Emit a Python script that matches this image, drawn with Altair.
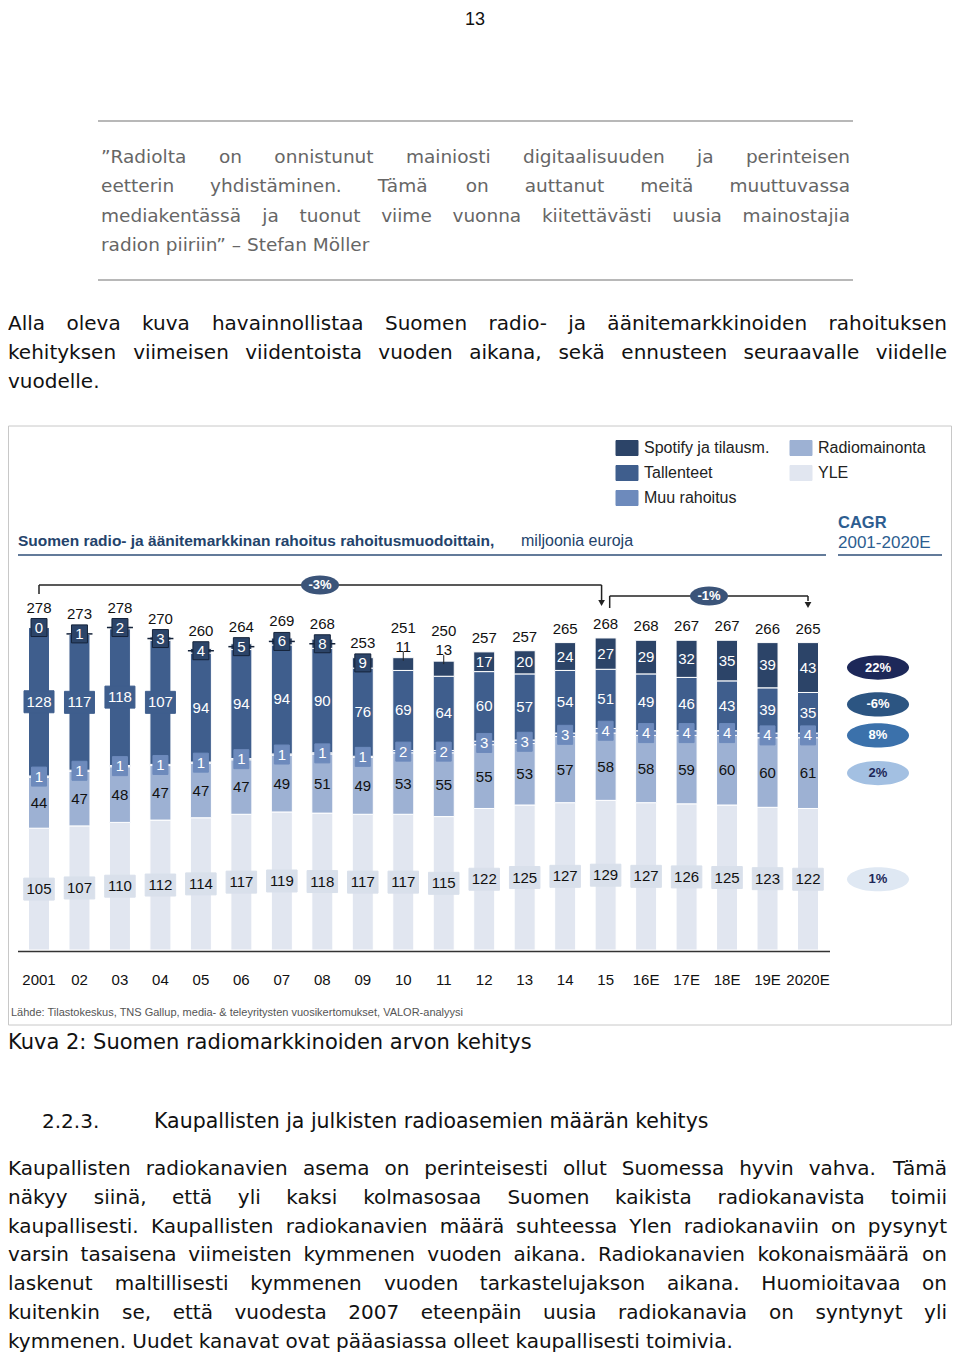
import altair as alt
import pandas as pd

# ---------------- data ----------------
years = ["2001", "02", "03", "04", "05", "06", "07", "08", "09", "10",
         "11", "12", "13", "14", "15", "16E", "17E", "18E", "19E", "2020E"]
yle = [105, 107, 110, 112, 114, 117, 119, 118, 117, 117, 115, 122, 125, 127, 129, 127, 126, 125, 123, 122]
radiomainonta = [44, 47, 48, 47, 47, 47, 49, 51, 49, 53, 55, 55, 53, 57, 58, 58, 59, 60, 60, 61]
muu_rahoitus = [1, 1, 1, 1, 1, 1, 1, 1, 1, 2, 2, 3, 3, 3, 4, 4, 4, 4, 4, 4]
tallenteet = [128, 117, 118, 107, 94, 94, 94, 90, 76, 69, 64, 60, 57, 54, 51, 49, 46, 43, 39, 35]
spotify = [0, 1, 2, 3, 4, 5, 6, 8, 9, 11, 13, 17, 20, 24, 27, 29, 32, 35, 39, 43]
totals = [278, 273, 278, 270, 260, 264, 269, 268, 253, 251, 250, 257, 257, 265, 268, 268, 267, 267, 266, 265]
series = ["YLE", "Radiomainonta", "Muu rahoitus", "Tallenteet", "Spotify ja tilausm."]
cagr = ["1%", "2%", "8%", "-6%", "22%"]
period_labels = ["-3%", "-1%"]
period_from = ["2001", "15"]
period_to = ["15", "2020E"]

page_number = "13"
quote_lines = [
    "”Radiolta on onnistunut mainiosti digitaalisuuden ja perinteisen",
    "eetterin yhdistäminen. Tämä on auttanut meitä muuttuvassa",
    "mediakentässä ja tuonut viime vuonna kiitettävästi uusia mainostajia",
    "radion piiriin” – Stefan Möller",
]
intro_lines = [
    "Alla oleva kuva havainnollistaa Suomen radio- ja äänitemarkkinoiden rahoituksen",
    "kehityksen viimeisen viidentoista vuoden aikana, sekä ennusteen seuraavalle viidelle",
    "vuodelle.",
]
chart_title_bold = "Suomen radio- ja äänitemarkkinan rahoitus rahoitusmuodoittain,"
chart_title_unit = "miljoonia euroja"
cagr_title = "CAGR"
cagr_period = "2001-2020E"
source_text = "Lähde: Tilastokeskus, TNS Gallup, media- & teleyritysten vuosikertomukset, VALOR-analyysi"
caption = "Kuva 2: Suomen radiomarkkinoiden arvon kehitys"
section_no = "2.2.3."
section_title = "Kaupallisten ja julkisten radioasemien määrän kehitys"
body_lines = [
    "Kaupallisten radiokanavien asema on perinteisesti ollut Suomessa hyvin vahva. Tämä",
    "näkyy siinä, että yli kaksi kolmasosaa Suomen kaikista radiokanavista toimii",
    "kaupallisesti. Kaupallisten radiokanavien määrä suhteessa Ylen radiokanaviin on pysynyt",
    "varsin tasaisena viimeisten kymmenen vuoden aikana. Radiokanavien kokonaismäärä on",
    "laskenut maltillisesti kymmenen vuoden tarkastelujakson aikana. Huomioitavaa on",
    "kuitenkin se, että vuodesta 2007 eteenpäin uusia radiokanavia on syntynyt yli",
    "kymmenen. Uudet kanavat ovat pääasiassa olleet kaupallisesti toimivia.",
]

# ---------------- layout / styles ----------------
W, H = 944, 1344
K = 1.16        # px per million euro
XS = 40.474     # px per bar step
X0_PAGE, Y0_PAGE = 39, 950
xdom = [-(X0_PAGE - 8) / XS, (W - (X0_PAGE - 8)) / XS]
ydom = [-(H - (Y0_PAGE - 8)) / K, (Y0_PAGE - 8) / K]


def X(px):
    return xdom[0] + (px - 8) / XS


def Y(py):
    return ydom[1] - (py - 8) / K


def dxu(px):
    return px / XS


def dyu(px):
    return px / K


seg_colors = {"YLE": "#e1e6f0", "Radiomainonta": "#9db1d3", "Muu rahoitus": "#6d8abc",
              "Tallenteet": "#3f5e8d", "Spotify ja tilausm.": "#2c4468"}
cagr_colors = ["#dfe8f3", "#a3c0e2", "#3b71ab", "#2c5582", "#1d2859"]
cagr_text_colors = ["#1d2859", "#1d2859", "white", "white", "white"]
DARK = "#111111"
TITLE_BLUE = "#24436b"
CAGR_BLUE = "#2d5d90"

XSC = alt.Scale(domain=xdom, nice=False, zero=False, padding=0)
YSC = alt.Scale(domain=ydom, nice=False, zero=False, padding=0)


def ex(f="x"):
    return alt.X(f"{f}:Q", scale=XSC, axis=None)


def ey(f="y"):
    return alt.Y(f"{f}:Q", scale=YSC, axis=None)


# DejaVu Sans advance widths (em)
CW = {' ': .318, '”': .52, '"': .46, '–': .5, '-': .361, '.': .318, ',': .318, ':': .337,
      'A': .684, 'B': .686, 'C': .698, 'D': .770, 'E': .632, 'F': .575, 'G': .775, 'H': .752,
      'I': .295, 'J': .295, 'K': .656, 'L': .557, 'M': .863, 'N': .748, 'O': .787, 'P': .603,
      'R': .695, 'S': .635, 'T': .611, 'U': .732, 'V': .684, 'W': .989, 'Y': .611,
      'a': .613, 'b': .635, 'c': .550, 'd': .635, 'e': .615, 'f': .352, 'g': .635, 'h': .634,
      'i': .278, 'j': .278, 'k': .579, 'l': .278, 'm': .974, 'n': .634, 'o': .612, 'p': .635,
      'q': .635, 'r': .411, 's': .521, 't': .392, 'u': .634, 'v': .592, 'w': .818, 'x': .592,
      'y': .592, 'z': .525, 'ä': .613, 'ö': .612, 'Ö': .787, 'Ä': .684}


def tw(s, fs):
    return sum(CW.get(ch, 0.636) for ch in s) * fs


body_left, body_right = [], []
lib_left, lib_center, bold_left, bold_center = [], [], [], []


def trow(text, px, py, size, color):
    return dict(t=text, x=X(px), y=Y(py), s=size, c=color)


def para(lines, x0, x1, y0, dy, fs, color):
    for k, line in enumerate(lines):
        y = y0 + k * dy
        words = line.split(" ")
        if k == len(lines) - 1 or len(words) == 1:
            body_left.append(trow(line, x0, y, fs, color))
            continue
        ws = [tw(w, fs) for w in words]
        gap = max((x1 - x0 - sum(ws)) / (len(words) - 1), fs * 0.3)
        xx = x0
        for j, w in enumerate(words):
            if j == len(words) - 1:
                body_right.append(trow(w, x1, y, fs, color))
            else:
                body_left.append(trow(w, xx, y, fs, color))
            xx += ws[j] + gap


para(quote_lines, 101, 850, 157, 29.3, 18.5, "#666666")
para(intro_lines, 8, 947, 324, 29, 20, DARK)
para(body_lines, 8, 947, 1169, 28.8, 20, DARK)
body_left.append(trow(caption, 8, 1043, 21, DARK))
body_left.append(trow(section_no, 42, 1122, 20, DARK))
body_left.append(trow(section_title, 154, 1122, 20.5, DARK))

lib_center.append(trow(page_number, 475, 20, 18, DARK))

# ---------------- bars ----------------
vals = [yle, radiomainonta, muu_rahoitus, tallenteet, spotify]
bar_rows, box_rows, rule_rows = [], [], []
centers = {}
tops = []
for i in range(len(years)):
    base = 0
    for s, name in enumerate(series):
        v = vals[s][i]
        bar_rows.append(dict(x=i, y=base, y2=base + v, c=seg_colors[name]))
        centers[(i, s)] = base + v / 2
        base += v
    tops.append(base)


def add_box(i, cy, wpx, hpx, fill, stroke):
    box_rows.append(dict(x=i - dxu(wpx / 2), x2=i + dxu(wpx / 2), y=cy - dyu(hpx / 2),
                         y2=cy + dyu(hpx / 2), c=fill, sc=stroke))


for i in range(len(years)):
    top = tops[i]
    # YLE
    c = centers[(i, 0)]
    add_box(i, c, 8 + 7.5 * len(str(yle[i])), 22, "#d9e0eb", "#d9e0eb")
    lib_center.append(dict(t=str(yle[i]), x=i, y=c, s=15, c=DARK))
    # Radiomainonta
    c = centers[(i, 1)]
    lib_center.append(dict(t=str(radiomainonta[i]), x=i, y=c, s=15, c=DARK))
    # Muu rahoitus
    c = centers[(i, 2)]
    add_box(i, c, 15, 19, seg_colors["Muu rahoitus"], seg_colors["Muu rahoitus"])
    lib_center.append(dict(t=str(muu_rahoitus[i]), x=i, y=c, s=15, c="white"))
    # Tallenteet
    c = centers[(i, 3)]
    if i < 4:
        add_box(i, c, 30, 22, seg_colors["Tallenteet"], seg_colors["Tallenteet"])
    lib_center.append(dict(t=str(tallenteet[i]), x=i, y=c, s=15, c="white"))
    # Spotify
    v = spotify[i]
    c = centers[(i, 4)]
    upper = top + dyu(3)
    if v < 10:
        if 0 < v < 9:
            rule_rows.append(dict(x=i - dxu(13), x2=i + dxu(13), y=c, y2=c, c="#15233a", w=1.5))
        add_box(i, c, 8 + 8 * len(str(v)), 18, seg_colors["Spotify ja tilausm."], "#15233a")
        lib_center.append(dict(t=str(v), x=i, y=c, s=15, c="white"))
        upper = max(upper, c + dyu(9))
    elif v < 15:
        ly = top + dyu(11)
        lib_center.append(dict(t=str(v), x=i, y=ly, s=15, c=DARK))
        rule_rows.append(dict(x=i, x2=i, y=top + dyu(6), y2=top - dyu(3), c="#222222", w=1))
        upper = max(upper, ly + dyu(8))
    else:
        lib_center.append(dict(t=str(v), x=i, y=c, s=15, c="white"))
    # total
    lib_center.append(dict(t=str(totals[i]), x=i, y=upper + dyu(11), s=15, c=DARK))
    # year
    lib_center.append(dict(t=years[i], x=i, y=Y(980), s=15, c=DARK))

# ---------------- CAGR ovals ----------------
last = len(years) - 1
oval_rows = []
ys_cagr = []
prev = None
for s in range(len(series)):
    cy = centers[(last, s)]
    if prev is not None and cy - prev < dyu(31):
        cy = prev + dyu(31)
    ys_cagr.append(cy)
    prev = cy
for s in range(len(series)):
    cy = ys_cagr[s]
    oval_rows.append(dict(x=X(878), y=cy, c=cagr_colors[s], s=62 * 62))
    bold_center.append(dict(t=cagr[s], x=X(878), y=cy, s=13, c=cagr_text_colors[s]))

# ---------------- period brackets ----------------
i0, i1 = years.index(period_from[0]), years.index(period_to[0])
j0, j1 = years.index(period_from[1]), years.index(period_to[1])
ya, yb = Y(585), Y(596)
rule_rows += [
    dict(x=i0, x2=i1 - 0.1, y=ya, y2=ya, c="#222222", w=1.5),
    dict(x=i0, x2=i0, y=ya, y2=Y(594), c="#222222", w=1.5),
    dict(x=i1 - 0.1, x2=i1 - 0.1, y=ya, y2=Y(600), c="#222222", w=1.5),
    dict(x=j0 + 0.1, x2=j1, y=yb, y2=yb, c="#222222", w=1.5),
    dict(x=j0 + 0.1, x2=j0 + 0.1, y=yb, y2=Y(608), c="#222222", w=1.5),
    dict(x=j1, x2=j1, y=yb, y2=Y(601), c="#222222", w=1.5),
]
arrow_rows = [dict(x=i1 - 0.1, y=Y(603)), dict(x=j1, y=Y(605))]
small_oval_rows = [dict(x=X(320), y=ya, c="#3b5479", s=38 * 38),
                   dict(x=X(709), y=yb, c="#3b5479", s=38 * 38)]
bold_center.append(dict(t=period_labels[0], x=X(320), y=ya, s=13, c="white"))
bold_center.append(dict(t=period_labels[1], x=X(709), y=yb, s=13, c="white"))


# ---------------- frame, rules, legend, titles ----------------
def prule(x1, y1, x2, y2, c, w):
    rule_rows.append(dict(x=X(x1), x2=X(x2), y=Y(y1), y2=Y(y2), c=c, w=w))


prule(98, 121, 853, 121, "#a0a0a0", 1.3)
prule(98, 280, 853, 280, "#a0a0a0", 1.3)
# chart frame
prule(8.5, 426, 951.5, 426, "#c8c8c8", 1)
prule(8.5, 1025, 951.5, 1025, "#c8c8c8", 1)
prule(8.5, 426, 8.5, 1025, "#c8c8c8", 1)
prule(951.5, 426, 951.5, 1025, "#c8c8c8", 1)
prule(18, 555, 826, 555, "#2f4f78", 1.5)
prule(838, 555, 942, 555, "#2f4f78", 1.5)
prule(18, 951.5, 830, 951.5, "#333333", 1.5)

legend_pos = {"Spotify ja tilausm.": (616, 448), "Tallenteet": (616, 473), "Muu rahoitus": (616, 498),
              "Radiomainonta": (790, 448), "YLE": (790, 473)}
for name in series:
    lx, ly = legend_pos[name]
    box_rows.append(dict(x=X(lx), x2=X(lx + 22), y=Y(ly - 7.5), y2=Y(ly + 7.5),
                         c=seg_colors[name], sc=seg_colors[name]))
    lib_left.append(trow(name, lx + 28, ly, 16, "#222222"))

bold_left.append(trow(chart_title_bold, 18, 541, 15.5, TITLE_BLUE))
lib_left.append(trow(chart_title_unit, 521, 541, 16, TITLE_BLUE))
bold_left.append(trow(cagr_title, 838, 523, 16.5, CAGR_BLUE))
lib_left.append(trow(cagr_period, 838, 543, 17, CAGR_BLUE))
lib_left.append(trow(source_text, 11, 1013, 11, "#555555"))

# ---------------- layers ----------------
bars = alt.Chart(pd.DataFrame(bar_rows)).mark_bar(size=21, stroke="white", strokeWidth=1).encode(
    x=ex(), y=ey(), y2=alt.Y2("y2"), color=alt.Color("c:N", scale=None))

boxes = alt.Chart(pd.DataFrame(box_rows)).mark_rect(strokeWidth=1).encode(
    x=ex(), x2=alt.X2("x2"), y=ey(), y2=alt.Y2("y2"),
    color=alt.Color("c:N", scale=None), stroke=alt.Stroke("sc:N", scale=None))

rules = alt.Chart(pd.DataFrame(rule_rows)).mark_rule().encode(
    x=ex(), x2=alt.X2("x2"), y=ey(), y2=alt.Y2("y2"),
    color=alt.Color("c:N", scale=None), strokeWidth=alt.StrokeWidth("w:Q", scale=None))

ELL_WIDE = "M-1,0A1,0.39,0,1,0,1,0A1,0.39,0,1,0,-1,0Z"
ELL_SMALL = "M-1,0A1,0.5,0,1,0,1,0A1,0.5,0,1,0,-1,0Z"
ovals = alt.Chart(pd.DataFrame(oval_rows)).mark_point(shape=ELL_WIDE, filled=True, opacity=1, strokeWidth=0).encode(
    x=ex(), y=ey(), color=alt.Color("c:N", scale=None), size=alt.Size("s:Q", scale=None))
small_ovals = alt.Chart(pd.DataFrame(small_oval_rows)).mark_point(shape=ELL_SMALL, filled=True, opacity=1, strokeWidth=0).encode(
    x=ex(), y=ey(), color=alt.Color("c:N", scale=None), size=alt.Size("s:Q", scale=None))
arrows = alt.Chart(pd.DataFrame(arrow_rows)).mark_point(shape="triangle-down", filled=True, opacity=1, size=45, color="#222222").encode(
    x=ex(), y=ey())


def text_layer(rows, font, align, weight="normal"):
    return alt.Chart(pd.DataFrame(rows)).mark_text(font=font, align=align, baseline="middle", fontWeight=weight).encode(
        x=ex(), y=ey(), text=alt.Text("t:N"), color=alt.Color("c:N", scale=None),
        size=alt.Size("s:Q", scale=None))


layers = [bars, rules, boxes, ovals, small_ovals, arrows,
          text_layer(body_left, "DejaVu Sans", "left"),
          text_layer(body_right, "DejaVu Sans", "right"),
          text_layer(lib_left, "Liberation Sans", "left"),
          text_layer(lib_center, "Liberation Sans", "center"),
          text_layer(bold_left, "Liberation Sans", "left", "bold"),
          text_layer(bold_center, "Liberation Sans", "center", "bold")]

chart = alt.layer(*layers).properties(
    width=W, height=H, padding=0, background="white",
    autosize=alt.AutoSizeParams(type="none"),
).configure_view(strokeWidth=0)

chart.save("out.html", embed_options={"renderer": "svg", "actions": False})
